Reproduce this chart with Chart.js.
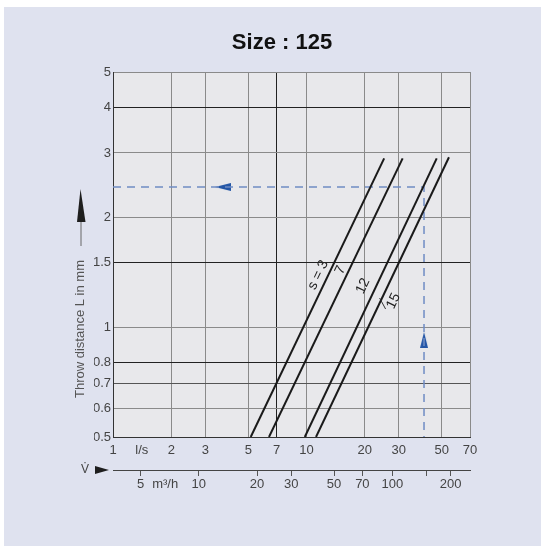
<!DOCTYPE html>
<html>
<head>
<meta charset="utf-8">
<title>Size : 125</title>
<script src="https://cdn.jsdelivr.net/npm/chart.js@4/dist/chart.umd.min.js"></script>
<style>
  html, body { margin: 0; padding: 0; background: #fff; }
  canvas { display: block; }
</style>
</head>
<body>
<canvas id="myChart" width="541" height="546"></canvas>
<script>
// flow in l/s (main x axis), flow in m3/h (second scale), throw distance (y)
const flowTicks = [1, 2, 3, 5, 7, 10, 20, 30, 50, 70];
const flowUnitAt = 1.41;
const hourTicks = [5, 10, 20, 30, 50, 70, 100, 150, 200];
const hourUnitAt = 6.7;
const throwTicks = [0.5, 0.6, 0.7, 0.8, 1, 1.5, 2, 3, 4, 5];

const curveNames = ['s = 3', '7', '12', '15'];
const curveStart = [[5.15, 0.5], [6.4, 0.5], [9.8, 0.5], [11.2, 0.5]];
const curveEnd = [[25.2, 2.9], [31.4, 2.9], [47.1, 2.9], [54.5, 2.92]];
const curveLabelAt = [[11.5, 1.39], [15.0, 1.434], [19.6, 1.296], [28.2, 1.179]];

// worked example (blue dashed)
const exampleFlow = [1, 40.5, 40.5];
const exampleThrow = [2.42, 2.42, 0.5];
const arrowFlow = [3.7, 40.5];
const arrowThrow = [2.42, 0.922];
const arrowRotation = [270, 0];

const darkY = [4, 1.5, 0.8];
const midY = [0.7];
const darkX = [7];

Chart.defaults.font.family = "'Liberation Sans', Arial, sans-serif";
Chart.defaults.color = '#444';

// long thin arrow head, pointing up
const arrowHead = document.createElement('canvas');
arrowHead.width = 8;
arrowHead.height = 16;
(() => {
  const c = arrowHead.getContext('2d');
  c.fillStyle = '#2456a6';
  c.beginPath();
  c.moveTo(4, 0);
  c.lineTo(8, 16);
  c.lineTo(0, 16);
  c.closePath();
  c.fill();
})();

const curveSets = curveNames.map((name, i) => ({
  label: name,
  data: [{ x: curveStart[i][0], y: curveStart[i][1] }, { x: curveEnd[i][0], y: curveEnd[i][1] }],
  borderColor: '#1a1a1a',
  borderWidth: 2,
  pointRadius: 0,
  fill: false
}));

const backdrop = {
  id: 'backdrop',
  beforeDraw(chart) {
    const { ctx, chartArea: a } = chart;
    ctx.save();
    ctx.fillStyle = '#ffffff';
    ctx.fillRect(0, 0, chart.width, chart.height);
    ctx.fillStyle = '#dfe2ef';
    ctx.fillRect(4, 7, chart.width - 4, chart.height - 7);
    ctx.fillStyle = '#e8e8eb';
    ctx.fillRect(a.left, a.top, a.right - a.left, a.bottom - a.top);
    ctx.restore();
  }
};

const notes = {
  id: 'notes',
  afterDatasetsDraw(chart) {
    const ctx = chart.ctx;
    const xs = chart.scales.x;
    const ys = chart.scales.y;
    ctx.save();
    // curve labels, turned along each line
    ctx.fillStyle = '#222';
    ctx.font = "14px 'Liberation Sans', Arial, sans-serif";
    ctx.textAlign = 'center';
    ctx.textBaseline = 'middle';
    curveNames.forEach((name, i) => {
      const dx = xs.getPixelForValue(curveEnd[i][0]) - xs.getPixelForValue(curveStart[i][0]);
      const dy = ys.getPixelForValue(curveEnd[i][1]) - ys.getPixelForValue(curveStart[i][1]);
      ctx.save();
      ctx.translate(xs.getPixelForValue(curveLabelAt[i][0]), ys.getPixelForValue(curveLabelAt[i][1]));
      ctx.rotate(Math.atan2(dy, dx));
      ctx.fillText(name, 0, 0);
      ctx.restore();
    });
    // little leader for "15"
    const lx = xs.getPixelForValue(curveLabelAt[3][0]);
    const ly = ys.getPixelForValue(curveLabelAt[3][1]);
    ctx.strokeStyle = '#333';
    ctx.lineWidth = 1;
    ctx.beginPath();
    ctx.moveTo(lx - 14, ly - 3);
    ctx.lineTo(lx - 8, ly + 8);
    ctx.stroke();

    // y axis title with its arrow
    ctx.font = "13px 'Liberation Sans', Arial, sans-serif";
    ctx.fillStyle = '#555';
    ctx.save();
    ctx.translate(80, 329);
    ctx.rotate(-Math.PI / 2);
    ctx.fillText('Throw distance L in mm', 0, 0);
    ctx.restore();
    ctx.strokeStyle = '#666';
    ctx.beginPath();
    ctx.moveTo(81, 246);
    ctx.lineTo(81, 220);
    ctx.stroke();
    ctx.fillStyle = '#1e1e1e';
    ctx.beginPath();
    ctx.moveTo(80.5, 189);
    ctx.lineTo(85.5, 222);
    ctx.lineTo(77, 222);
    ctx.closePath();
    ctx.fill();

    // flow symbol
    ctx.fillStyle = '#444';
    ctx.font = "12px 'Liberation Sans', Arial, sans-serif";
    ctx.fillText('V\u0307', 85, 470);
    ctx.fillStyle = '#1e1e1e';
    ctx.beginPath();
    ctx.moveTo(95, 466);
    ctx.lineTo(109, 470);
    ctx.lineTo(95, 474);
    ctx.closePath();
    ctx.fill();
    ctx.restore();
  }
};

const ctx = document.querySelector('#myChart');

const myChart = new Chart(ctx, {
  type: 'line',
  data: {
    datasets: [
      ...curveSets,
      {
        label: 'example',
        data: exampleFlow.map((v, i) => ({ x: v, y: exampleThrow[i] })),
        borderColor: '#6f8cc4',
        borderWidth: 1.5,
        borderDash: [8, 6],
        pointRadius: 0,
        fill: false
      },
      {
        label: 'arrows',
        data: arrowFlow.map((v, i) => ({ x: v, y: arrowThrow[i] })),
        showLine: false,
        pointStyle: arrowHead,
        rotation: arrowRotation,
        pointRadius: 6
      }
    ]
  },
  options: {
    responsive: false,
    devicePixelRatio: 1,
    animation: false,
    layout: { padding: { left: 94, right: 71, top: 12, bottom: 46 } },
    plugins: {
      legend: { display: false },
      tooltip: { enabled: false },
      title: {
        display: true,
        text: 'Size : 125',
        color: '#111',
        font: { size: 22, weight: 'bold' },
        padding: { top: 18, bottom: 15.6 }
      }
    },
    scales: {
      x: {
        type: 'logarithmic',
        position: 'bottom',
        min: 1,
        max: 70,
        afterBuildTicks: s => { s.ticks = [...flowTicks, flowUnitAt].sort((a, b) => a - b).map(v => ({ value: v })); },
        afterFit: s => { s.height = 33; },
        ticks: {
          autoSkip: false,
          maxRotation: 0,
          padding: 6,
          font: { size: 13 },
          callback: v => v === flowUnitAt ? 'l/s' : String(v)
        },
        grid: {
          drawTicks: false,
          color: c => {
            const v = c.tick && c.tick.value;
            if (v === flowUnitAt) return 'rgba(0,0,0,0)';
            return darkX.includes(v) ? '#222' : '#8a8a8a';
          }
        },
        border: { display: true, color: '#333', width: 1 }
      },
      x2: {
        type: 'logarithmic',
        position: 'bottom',
        min: 3.6,
        max: 252,
        afterBuildTicks: s => { s.ticks = [...hourTicks, hourUnitAt].sort((a, b) => a - b).map(v => ({ value: v })); },
        afterFit: s => { s.height = 30; },
        ticks: {
          autoSkip: false,
          maxRotation: 0,
          padding: 1,
          font: { size: 13 },
          callback: v => v === hourUnitAt ? 'm\u00b3/h' : (v === 150 ? '' : String(v))
        },
        grid: {
          drawOnChartArea: false,
          drawTicks: true,
          tickLength: 6,
          color: c => (c.tick && c.tick.value === hourUnitAt) ? 'rgba(0,0,0,0)' : '#555',
          tickColor: c => (c.tick && c.tick.value === hourUnitAt) ? 'rgba(0,0,0,0)' : '#555'
        },
        border: { display: true, color: '#444', width: 1 }
      },
      y: {
        type: 'logarithmic',
        position: 'left',
        min: 0.5,
        max: 5,
        afterBuildTicks: s => { s.ticks = throwTicks.map(v => ({ value: v })); },
        afterFit: s => { s.width = 19; },
        ticks: {
          autoSkip: false,
          padding: 2,
          font: { size: 13 },
          callback: v => String(v)
        },
        grid: {
          drawTicks: false,
          color: c => {
            const v = c.tick && c.tick.value;
            if (darkY.includes(v)) return '#222';
            if (midY.includes(v)) return '#555';
            return '#8a8a8a';
          }
        },
        border: { display: true, color: '#333', width: 1 }
      }
    }
  },
  plugins: [backdrop, notes]
});
</script>
</body>
</html>
